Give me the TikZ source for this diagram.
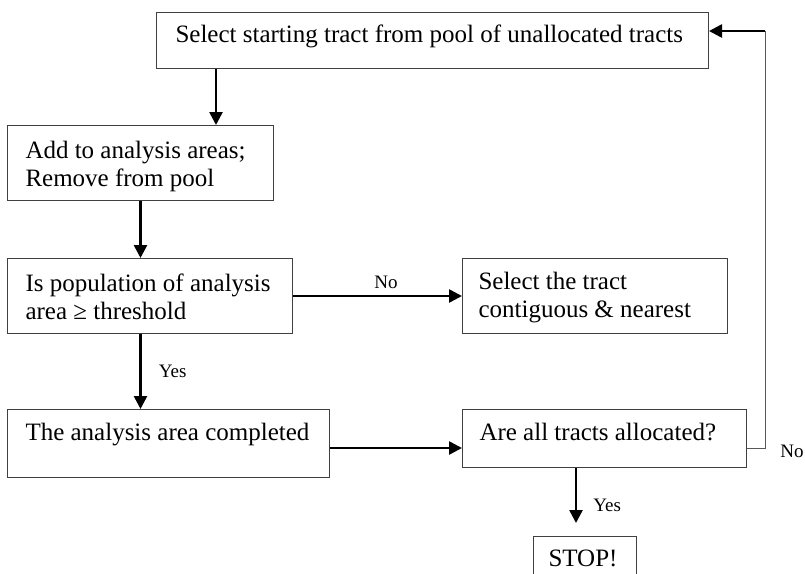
\documentclass[tikz,border=0pt]{standalone}
\usepackage{fontspec}
\setmainfont{Liberation Serif}
\usetikzlibrary{arrows.meta}
\newcommand{\bxtext}[5]{\parbox[t][#1][t]{#2}{\raggedright\leftskip=#3\relax\rule{0pt}{#4}#5}}
\begin{document}
\begin{tikzpicture}[x=1pt,y=-1pt,
  font=\fontsize{25}{27.5}\selectfont,
  box/.style={draw=black!75, line width=1pt, inner sep=0pt, anchor=north west, rectangle},
  arr/.style={line width=2.6pt, -{Triangle[width=13pt,length=13pt]}},
  loopline/.style={draw=black!65, line width=1pt},
  lab/.style={font=\fontsize{19}{22}\selectfont, inner sep=0pt}]
\useasboundingbox (0,0) rectangle (805,573);
\clip (0,0) rectangle (805,573);
\node[box] (T) at (156,12) {\bxtext{56pt}{552pt}{19pt}{30pt}{Select starting tract from pool of unallocated tracts}};
\node[box] (A) at (7,125) {\bxtext{75pt}{266pt}{18pt}{33pt}{Add to analysis areas;\\Remove from pool}};
\node[box] (I) at (7,258) {\bxtext{75pt}{285pt}{18pt}{33pt}{Is population of analysis\\area ≥ threshold}};
\node[box] (S) at (462,258) {\bxtext{75pt}{265pt}{16pt}{31pt}{Select the tract\\contiguous \& nearest}};
\node[box] (C) at (7,409) {\bxtext{68pt}{322pt}{18pt}{31pt}{The analysis area completed}};
\node[box] (R) at (462,409) {\bxtext{58pt}{284pt}{17pt}{31pt}{Are all tracts allocated?}};
\node[box] (P) at (533,536) {\bxtext{54pt}{103pt}{15pt}{30pt}{STOP!}};
\coordinate (xa) at (216,0);
\coordinate (yc) at (0,448);
\coordinate (xr) at (576,0);
\coordinate (xl) at (765,0);
\coordinate (yt) at (0,31);
\draw[arr] (T.south -| xa) -- (A.north -| xa);
\draw[arr] (A.south) -- (A.south |- I.north);
\draw[arr] (I.east) -- node[lab, above=6pt, pos=0.55] {No} (S.west);
\draw[arr] (A.south |- I.south) -- node[lab, right=17pt, pos=0.5] {Yes} (A.south |- C.north);
\draw[arr] (C.east |- yc) -- (R.west |- yc);
\draw[arr, shorten >=13pt] (R.south -| xr) -- node[lab, right=16pt, pos=0.55] {Yes} (P.north -| xr);
\draw[loopline] (R.east |- yc) -- (xl |- yc) -- (xl |- yt);
\draw[arr] (xl |- yt) -- (T.east |- yt);
\node[lab] (no2) at (792,451) {No};
\end{tikzpicture}
\end{document}
